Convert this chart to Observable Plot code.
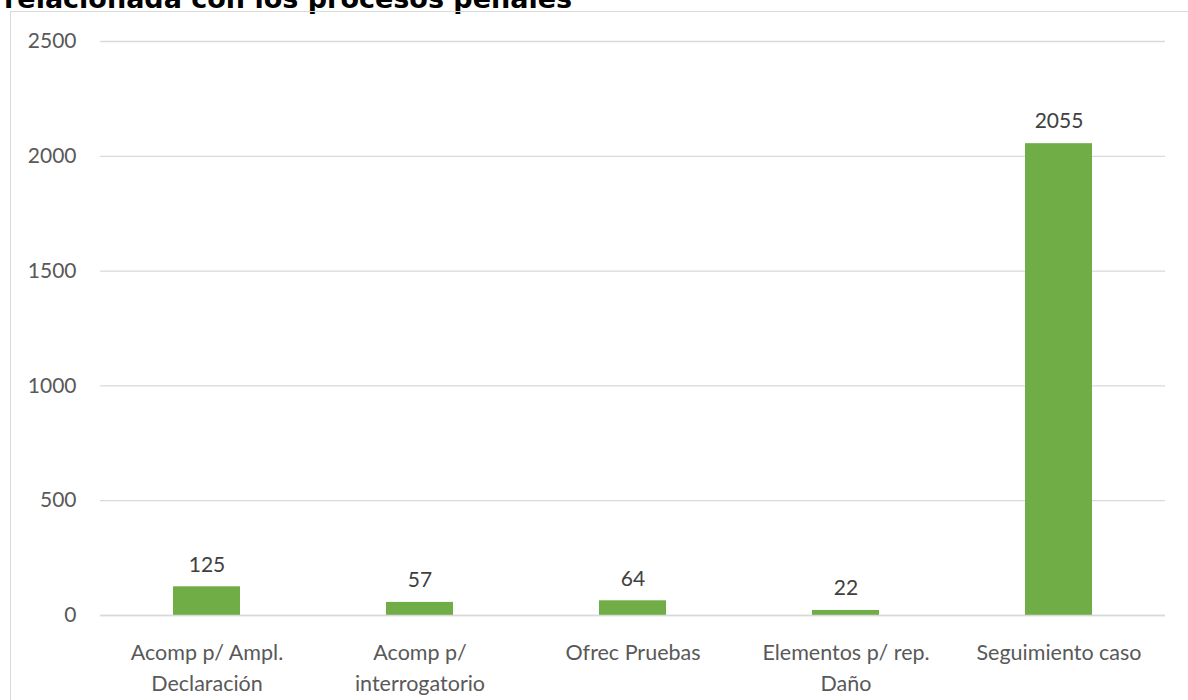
<!DOCTYPE html>
<html>
<head>
<meta charset="utf-8">
<script src="https://cdn.jsdelivr.net/npm/d3@7"></script>
<script src="https://cdn.jsdelivr.net/npm/@observablehq/plot@0.6"></script>
<style>
  html, body { margin: 0; padding: 0; background: #fff; }
  #page { position: relative; width: 1188px; height: 700px; overflow: hidden; background: #fff; }
  #title { position: absolute; left: 4px; top: -19px; font-family: "DejaVu Sans", sans-serif; font-weight: bold; font-size: 27px; line-height: 36px; color: #000; white-space: nowrap; }
  #frame { position: absolute; left: 10px; top: 11px; width: 1190px; height: 720px; border: 1.5px solid #d9d9d9; box-sizing: border-box; }
  #chart { position: absolute; left: 0; top: 0; }
</style>
</head>
<body>
<div id="page">
  <div id="title">relacionada con los procesos penales</div>
  <div id="frame"></div>
  <div id="chart"></div>
</div>
<script>
const categories = ["Acomp p/ Ampl.\nDeclaración", "Acomp p/\ninterrogatorio", "Ofrec Pruebas", "Elementos p/ rep.\nDaño", "Seguimiento caso"];
const values = [125, 57, 64, 22, 2055];
const yTicks = [0, 500, 1000, 1500, 2000, 2500];

const data = categories.map((c, i) => ({category: c, value: values[i]}));

const chart = Plot.plot({
  width: 1188,
  height: 700,
  marginLeft: 100,
  marginRight: 23,
  marginTop: 41,
  marginBottom: 85,
  style: {fontFamily: "Lato, 'Open Sans', sans-serif", fontSize: "21px", color: "#595959", background: "transparent"},
  x: {domain: categories, padding: 0, label: null},
  y: {domain: [0, 2500], label: null},
  marks: [
    Plot.gridY(yTicks, {stroke: "#d9d9d9", strokeOpacity: 1, strokeWidth: 1.3}),
    Plot.barY(data, {x: "category", y: "value", fill: "#70ad47", insetLeft: 73, insetRight: 73}),
    Plot.ruleY([0], {stroke: "#d9d9d9", strokeWidth: 1.3}),
    Plot.text(data, {x: "category", y: "value", text: d => String(d.value), dy: -22, fill: "#404040", fontSize: 21}),
    Plot.axisY(yTicks, {tickSize: 0, tickPadding: 24, fontSize: 21, fill: "#595959", label: null, tickFormat: d => String(d)}),
    Plot.axisX({tickSize: 0, tickPadding: 23, fontSize: 21.5, fill: "#595959", lineHeight: 1.43, label: null, textAnchor: "middle"})
  ]
});
document.getElementById("chart").appendChild(chart);
</script>
</body>
</html>
